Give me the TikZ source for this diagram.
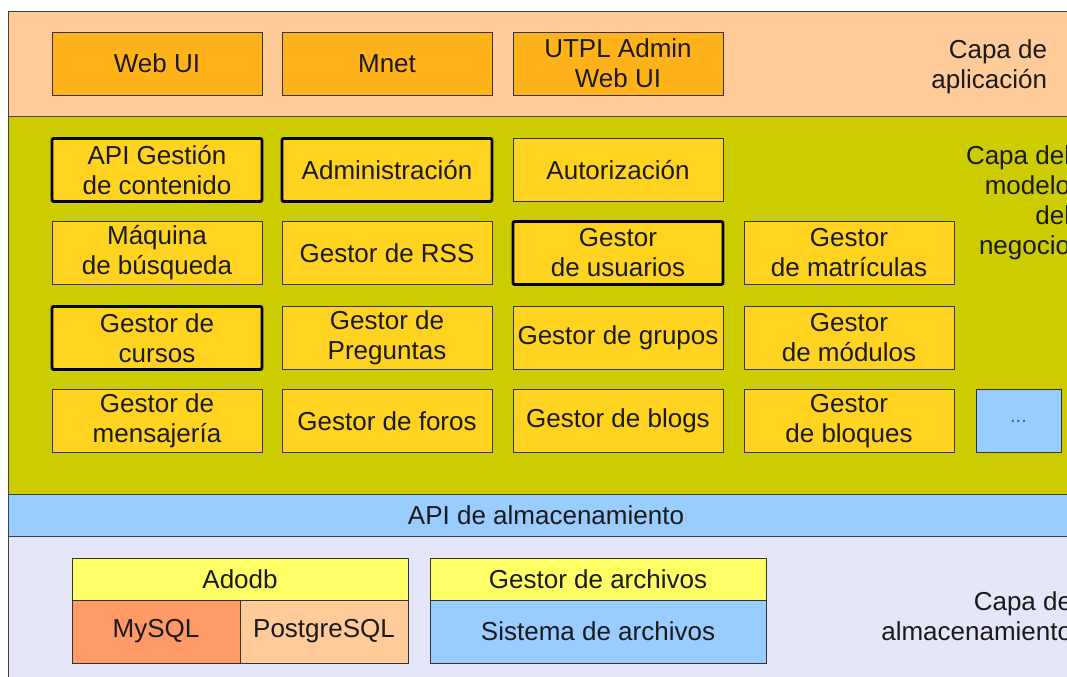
\documentclass[tikz,border=0pt]{standalone}
\usepackage{fontspec}
\setmainfont{Liberation Sans}
\definecolor{layapp}{HTML}{FFCC99}
\definecolor{laymod}{HTML}{CCCC00}
\definecolor{layapi}{HTML}{99CCFF}
\definecolor{laysto}{HTML}{E6E6FA}
\definecolor{apporange}{HTML}{FFB219}
\definecolor{modgold}{HTML}{FFD320}
\definecolor{headyel}{HTML}{FFFF66}
\definecolor{mysqlc}{HTML}{FF9966}
\definecolor{txtdark}{HTML}{1A1A1A}
\begin{document}
\begin{tikzpicture}[x=0.75pt, y=-0.75pt,
    every node/.style={font=\fontsize{19.5}{22.5}\selectfont, text=txtdark, align=center, inner sep=2pt},
    appbox/.style={draw=black!80, fill=apporange, minimum width=157.5pt, minimum height=47.25pt},
    modbox/.style={draw=black!80, fill=modgold, minimum width=157.5pt, minimum height=47.25pt},
    corebox/.style={modbox, draw=black, line width=2.2pt, rounded corners=1.5pt},
    dbhead/.style={draw=black!80, fill=headyel, minimum width=252pt, minimum height=31.5pt},
    dbcell/.style={draw=black!80, minimum width=126pt, minimum height=47.25pt},
    lbl/.style={anchor=east, align=right}]
    % frame and layers
    \useasboundingbox (0,0) rectangle (1067,677);
    \fill[white] (0,0) rectangle (1067,677);
    \clip (0,0) rectangle (1067,677);
    \draw[draw=black!75, fill=layapp] (8,11) rectangle (1090,116);
    \draw[draw=black!75, fill=laymod] (8,116) rectangle (1090,494);
    \draw[draw=black!75, fill=layapi] (8,494) rectangle (1090,536);
    \draw[draw=black!75, fill=laysto] (8,536) rectangle (1090,700);

    % Capa de aplicacion
    \node[appbox] (webui) at (157,63.5) {Web UI};
    \node[appbox] (mnet) at (387,63.5) {Mnet};
    \node[appbox] (utpl) at (618,63.5) {UTPL Admin\\Web UI};
    \node[lbl] (capaapp) at (1050,67) {Capa de\\aplicación};

    % Capa del modelo del negocio
    \node[corebox] (apigest) at (157,170) {API Gestión\\de contenido};
    \node[corebox] (admin) at (387,170) {Administración};
    \node[modbox] (autoriz) at (618,170) {Autorización};

    \node[modbox] (maquina) at (157,253) {Máquina\\de búsqueda};
    \node[modbox] (rss) at (387,253) {Gestor de RSS};
    \node[corebox] (usuarios) at (618,253) {Gestor\\de usuarios};
    \node[modbox] (matric) at (849,253) {Gestor\\de matrículas};

    \node[corebox] (cursos) at (157,338) {Gestor de\\cursos};
    \node[modbox] (pregun) at (387,338) {Gestor de\\Preguntas};
    \node[modbox] (grupos) at (618,338) {Gestor de grupos};
    \node[modbox] (modulos) at (849,338) {Gestor\\de módulos};

    \node[modbox] (mensaj) at (157,421) {Gestor de\\mensajería};
    \node[modbox] (foros) at (387,421) {Gestor de foros};
    \node[modbox] (blogs) at (618,421) {Gestor de blogs};
    \node[modbox] (bloques) at (849,421) {Gestor\\de bloques};
    \node[modbox, fill=layapi, minimum width=63.75pt, font=\fontsize{15}{17}\selectfont, text=black!65] (otros) at (1018.5,421) {...};

    \node[lbl] (capamod) at (1073,203) {Capa del\\modelo\\del\\negocio};

    % API de almacenamiento
    \node (apialm) at (546,515) {API de almacenamiento};

    % Capa de almacenamiento
    \node[dbhead] (adodb) at (240,579) {Adodb};
    \node[dbcell, fill=mysqlc] (mysql) at (156,631.5) {MySQL};
    \node[dbcell, fill=layapp] (pgsql) at (324,631.5) {PostgreSQL};
    \node[dbhead] (gestarch) at (598,579) {Gestor de archivos};
    \node[dbcell, fill=layapi, minimum width=252pt] (sisarch) at (598,631.5) {Sistema de archivos};
    \node[lbl] (capasto) at (1075,616) {Capa de\\almacenamiento};
\end{tikzpicture}
\end{document}
